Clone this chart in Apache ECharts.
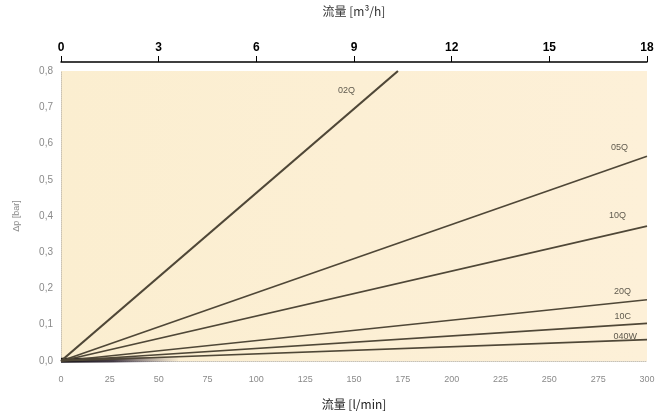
<!DOCTYPE html>
<html>
<head>
<meta charset="utf-8">
<script src="https://cdn.jsdelivr.net/npm/echarts@6/dist/echarts.min.js"></script>
<style>html,body{margin:0;padding:0;background:#fff}#c{width:669px;height:415px}</style>
</head>
<body>
<div id="c"></div>
<script>
// Data (flow in l/min, Δp in bar)
const seriesNames = ['02Q', '05Q', '10Q', '20Q', '10C', '040W'];
const flowStart = [0, 0, 0, 0, 0, 0];
const flowEnd = [172.5, 300, 300, 300, 300, 300];
const dpEnd = [0.8, 0.565, 0.372, 0.169, 0.104, 0.059];
// dark near-origin bundle of curves
const lowFlow = [0, 25, 60];
const lowDp = [0.002, 0.003, 0.005];
const topTicks = [0, 3, 6, 9, 12, 15, 18];       // m³/h
const bottomTicks = [0, 25, 50, 75, 100, 125, 150, 175, 200, 225, 250, 275, 300]; // l/min
const yTicks = [0, 0.1, 0.2, 0.3, 0.4, 0.5, 0.6, 0.7, 0.8];

const labelOffsets = [[-43, 20], [-19, -9], [-21, -11], [-16, -8], [-16, -7], [-10, -3]];
const lineColor = '#4f4737';

const series = seriesNames.map((n, i) => ({
  name: n,
  type: 'line',
  xAxisIndex: 0,
  symbol: 'none',
  z: 3,
  lineStyle: { color: lineColor, width: i === 0 ? 2.2 : 1.7 },
  endLabel: {
    show: true, formatter: n, distance: 0, align: 'right', verticalAlign: 'middle',
    offset: labelOffsets[i], color: '#5f5a4e', fontSize: 9, fontFamily: 'Liberation Sans'
  },
  data: [[flowStart[i], 0], [flowEnd[i], dpEnd[i]]]
}));
series.push({
  name: 'low', type: 'line', symbol: 'none', z: 2,
  lineStyle: {
    width: 5,
    color: new echarts.graphic.LinearGradient(0, 0, 1, 0, [
      { offset: 0, color: '#0d0a10' }, { offset: 0.45, color: 'rgba(40,30,45,0.85)' }, { offset: 1, color: 'rgba(90,80,100,0)' }
    ])
  },
  data: lowFlow.map((f, i) => [f, lowDp[i]])
});

const chart = echarts.init(document.getElementById('c'), null, { renderer: 'canvas' });
chart.setOption({
  animation: false,
  backgroundColor: '#ffffff',
  grid: {
    left: 61, right: 22, top: 67, bottom: 49,
    show: true,
    borderWidth: 0,
    backgroundColor: new echarts.graphic.LinearGradient(0, 0, 1, 0, [
      { offset: 0, color: '#fbeed0' },
      { offset: 1, color: '#fdf0d8' }
    ])
  },
  xAxis: [
    {
      type: 'value', position: 'bottom', min: 0, max: 300, interval: 25,
      name: '流量 [l/min]', nameLocation: 'middle', nameGap: 37,
      nameTextStyle: { color: '#222', fontSize: 12, fontFamily: 'Noto Sans CJK SC' },
      axisLine: { show: true, lineStyle: { color: '#c8c2b4', type: 'dotted', width: 1 } },
      axisTick: { show: false },
      splitLine: { show: false },
      axisLabel: { color: '#8a8a8a', fontSize: 9, margin: 14, fontFamily: 'Liberation Sans' }
    },
    {
      type: 'value', position: 'top', min: 0, max: 18, interval: 3, offset: 9,
      name: '流量 [m³/h]', nameLocation: 'middle', nameGap: 45,
      nameTextStyle: { color: '#333', fontSize: 12, fontFamily: 'Noto Sans CJK SC' },
      axisLine: { show: true, onZero: false, lineStyle: { color: '#000', width: 1.5 } },
      axisTick: { show: true, length: 6, lineStyle: { color: '#000', width: 1 } },
      splitLine: { show: false },
      axisLabel: { color: '#000', fontSize: 12, fontWeight: 'bold', margin: 8, fontFamily: 'Liberation Sans' }
    }
  ],
  yAxis: {
    type: 'value', min: 0, max: 0.8, interval: 0.1,
    name: 'Δp [bar]', nameLocation: 'middle', nameGap: 40,
    nameTextStyle: { color: '#8a8a8a', fontSize: 9, fontFamily: 'Liberation Sans' },
    axisLine: { show: true, lineStyle: { color: '#c8c2b4', type: 'dotted', width: 1 } },
    axisTick: { show: false },
    splitLine: { show: false },
    axisLabel: { color: '#8a8a8a', fontSize: 10, margin: 8, fontFamily: 'Liberation Sans',
                 formatter: v => v.toFixed(1).replace('.', ',') }
  },
  series: series
});
</script>
</body>
</html>
